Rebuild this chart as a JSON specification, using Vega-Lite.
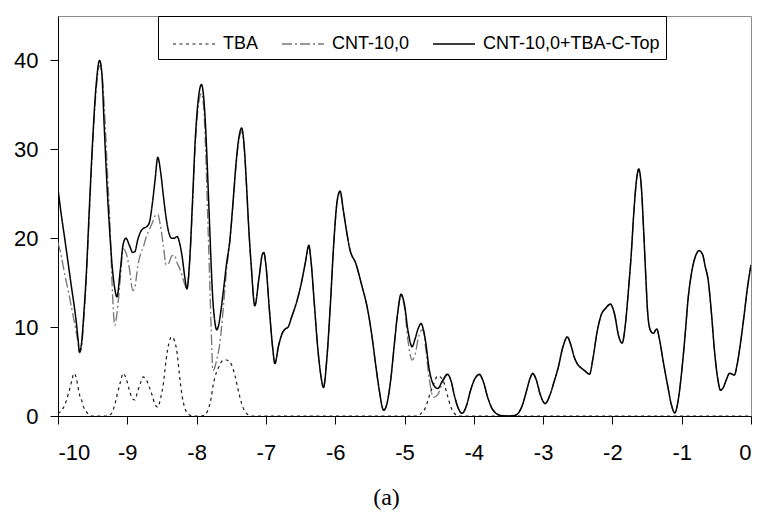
{
  "$schema": "https://vega.github.io/schema/vega-lite/v6.json",
  "width": 693,
  "height": 400,
  "autosize": {"type": "none"},
  "padding": {"left": 58, "top": 16, "right": 9, "bottom": 101},
  "background": "white",
  "config": {
    "view": {"stroke": "#8c8c8c", "strokeWidth": 1},
    "axis": {"grid": false, "domainColor": "black", "tickColor": "black", "labelColor": "black", "labelFont": "Liberation Sans", "labelFontSize": 22, "tickSize": 8, "domainWidth": 1, "tickWidth": 1, "labelExpr": "toString(datum.value)"}
  },
  "data": {
    "values": [
      {"x": -10, "top": 25.5, "cnt": 19.5, "tba": 0.3},
      {"x": -9.95, "top": 22.5, "cnt": 17.9, "tba": 0.6},
      {"x": -9.9, "top": 19.8, "cnt": 15.8, "tba": 1.3},
      {"x": -9.85, "top": 17.0, "cnt": 14.0, "tba": 2.5},
      {"x": -9.8, "top": 14.2, "cnt": 12.0, "tba": 4.0},
      {"x": -9.77, "top": 12.6, "cnt": 10.8, "tba": 4.8},
      {"x": -9.74, "top": 10.8, "cnt": 9.6, "tba": 4.4},
      {"x": -9.71, "top": 8.6, "cnt": 8.2, "tba": 3.2},
      {"x": -9.69, "top": 7.2, "cnt": 7.1, "tba": 2.4},
      {"x": -9.66, "top": 8.2, "cnt": 7.8, "tba": 1.8},
      {"x": -9.63, "top": 11.2, "cnt": 10.6, "tba": 1.0},
      {"x": -9.59, "top": 16.2, "cnt": 15.6, "tba": 0.5},
      {"x": -9.55, "top": 23.0, "cnt": 22.4, "tba": 0.1},
      {"x": -9.5, "top": 31.0, "cnt": 30.4, "tba": 0},
      {"x": -9.45, "top": 37.2, "cnt": 36.6, "tba": 0},
      {"x": -9.4, "top": 40.0, "cnt": 39.4, "tba": 0},
      {"x": -9.37, "top": 38.8, "cnt": 38.8, "tba": 0},
      {"x": -9.33, "top": 32.0, "cnt": 34.5, "tba": 0},
      {"x": -9.29, "top": 25.5, "cnt": 28.0, "tba": 0},
      {"x": -9.25, "top": 20.3, "cnt": 21.5, "tba": 0.1},
      {"x": -9.22, "top": 17.0, "cnt": 15.0, "tba": 0.4},
      {"x": -9.18, "top": 14.3, "cnt": 10.2, "tba": 1.3},
      {"x": -9.15, "top": 13.4, "cnt": 11.5, "tba": 2.3},
      {"x": -9.1, "top": 16.5, "cnt": 15.5, "tba": 3.8},
      {"x": -9.06, "top": 19.3, "cnt": 18.8, "tba": 4.8},
      {"x": -9.02, "top": 20.0, "cnt": 18.4, "tba": 4.3},
      {"x": -8.97, "top": 19.2, "cnt": 16.6, "tba": 2.9},
      {"x": -8.92, "top": 18.4, "cnt": 14.1, "tba": 1.9},
      {"x": -8.89, "top": 18.5, "cnt": 14.5, "tba": 1.8},
      {"x": -8.85, "top": 19.8, "cnt": 16.8, "tba": 2.8},
      {"x": -8.81, "top": 20.7, "cnt": 18.2, "tba": 3.7},
      {"x": -8.77, "top": 21.1, "cnt": 19.0, "tba": 4.4},
      {"x": -8.72, "top": 21.3, "cnt": 20.3, "tba": 4.0},
      {"x": -8.68, "top": 21.8, "cnt": 21.0, "tba": 3.2},
      {"x": -8.64, "top": 23.8, "cnt": 21.7, "tba": 2.3},
      {"x": -8.6, "top": 26.5, "cnt": 22.5, "tba": 1.3},
      {"x": -8.56, "top": 29.1, "cnt": 22.7, "tba": 1.0},
      {"x": -8.52, "top": 27.5, "cnt": 21.3, "tba": 2.0},
      {"x": -8.48, "top": 24.8, "cnt": 19.2, "tba": 3.6},
      {"x": -8.44, "top": 22.3, "cnt": 17.0, "tba": 6.3},
      {"x": -8.4, "top": 20.6, "cnt": 17.2, "tba": 8.2},
      {"x": -8.36, "top": 20.0, "cnt": 18.0, "tba": 8.9},
      {"x": -8.32, "top": 20.0, "cnt": 18.1, "tba": 8.5},
      {"x": -8.28, "top": 20.2, "cnt": 17.2, "tba": 7.0},
      {"x": -8.25, "top": 19.6, "cnt": 16.7, "tba": 4.8},
      {"x": -8.21, "top": 18.0, "cnt": 15.8, "tba": 2.3},
      {"x": -8.17, "top": 15.6, "cnt": 14.8, "tba": 0.9},
      {"x": -8.14, "top": 14.3, "cnt": 14.3, "tba": 0.4},
      {"x": -8.1, "top": 17.5, "cnt": 17.3, "tba": 0.1},
      {"x": -8.06, "top": 24.0, "cnt": 23.5, "tba": 0},
      {"x": -8.02, "top": 31.0, "cnt": 30.3, "tba": 0},
      {"x": -7.97, "top": 36.0, "cnt": 35.2, "tba": 0},
      {"x": -7.93, "top": 37.3, "cnt": 36.3, "tba": 0},
      {"x": -7.9, "top": 36.0, "cnt": 35.0, "tba": 0.05},
      {"x": -7.87, "top": 32.5, "cnt": 30.0, "tba": 0.2},
      {"x": -7.84, "top": 27.0, "cnt": 22.5, "tba": 0.6},
      {"x": -7.81, "top": 21.0, "cnt": 15.0, "tba": 1.3},
      {"x": -7.79, "top": 17.0, "cnt": 10.0, "tba": 2.0},
      {"x": -7.765, "top": 13.0, "cnt": 5.1, "tba": 3.3},
      {"x": -7.74, "top": 10.8, "cnt": 5.4, "tba": 4.2},
      {"x": -7.71, "top": 9.7, "cnt": 6.3, "tba": 5.0},
      {"x": -7.68, "top": 10.3, "cnt": 7.4, "tba": 5.5},
      {"x": -7.65, "top": 11.8, "cnt": 9.2, "tba": 6.0},
      {"x": -7.61, "top": 14.3, "cnt": 12.6, "tba": 6.3},
      {"x": -7.57, "top": 17.0, "cnt": 16.3, "tba": 6.3},
      {"x": -7.52, "top": 19.8, "cnt": 19.6, "tba": 6.1},
      {"x": -7.47, "top": 24.5, "cnt": 24.3, "tba": 5.2},
      {"x": -7.43, "top": 28.5, "cnt": 28.2, "tba": 4.0},
      {"x": -7.39, "top": 31.3, "cnt": 31.0, "tba": 2.6},
      {"x": -7.35, "top": 32.4, "cnt": 32.0, "tba": 1.4},
      {"x": -7.31, "top": 30.0, "cnt": 29.8, "tba": 0.6},
      {"x": -7.28, "top": 26.0, "cnt": 26.0, "tba": 0.3},
      {"x": -7.25, "top": 21.5, "cnt": 21.5, "tba": 0.1},
      {"x": -7.21, "top": 16.7, "cnt": 16.7, "tba": 0},
      {"x": -7.16, "top": 12.4, "cnt": 12.4, "tba": 0},
      {"x": -7.1, "top": 15.5, "cnt": 15.5, "tba": 0},
      {"x": -7.05, "top": 18.2, "cnt": 18.2, "tba": 0},
      {"x": -7.03, "top": 18.4, "cnt": 18.3, "tba": 0},
      {"x": -7.0, "top": 17.0, "cnt": 17.0, "tba": 0},
      {"x": -6.95, "top": 12.0, "cnt": 12.0, "tba": 0},
      {"x": -6.9, "top": 7.5, "cnt": 7.5, "tba": 0},
      {"x": -6.87, "top": 5.9, "cnt": 5.9, "tba": 0},
      {"x": -6.82, "top": 7.8, "cnt": 7.8, "tba": 0},
      {"x": -6.77, "top": 9.2, "cnt": 9.2, "tba": 0},
      {"x": -6.72, "top": 9.8, "cnt": 9.8, "tba": 0},
      {"x": -6.68, "top": 10.0, "cnt": 10.0, "tba": 0},
      {"x": -6.63, "top": 11.1, "cnt": 11.1, "tba": 0},
      {"x": -6.55, "top": 13.0, "cnt": 13.0, "tba": 0},
      {"x": -6.49, "top": 14.9, "cnt": 14.9, "tba": 0},
      {"x": -6.43, "top": 17.3, "cnt": 17.3, "tba": 0},
      {"x": -6.38, "top": 19.2, "cnt": 19.0, "tba": 0},
      {"x": -6.35, "top": 17.5, "cnt": 17.5, "tba": 0},
      {"x": -6.3, "top": 12.5, "cnt": 12.5, "tba": 0},
      {"x": -6.25, "top": 7.5, "cnt": 7.5, "tba": 0},
      {"x": -6.2, "top": 4.2, "cnt": 4.2, "tba": 0},
      {"x": -6.17, "top": 3.2, "cnt": 3.2, "tba": 0},
      {"x": -6.12, "top": 6.5, "cnt": 6.5, "tba": 0},
      {"x": -6.07, "top": 12.5, "cnt": 12.5, "tba": 0},
      {"x": -6.02, "top": 19.5, "cnt": 19.5, "tba": 0},
      {"x": -5.97, "top": 24.3, "cnt": 24.2, "tba": 0},
      {"x": -5.93, "top": 25.3, "cnt": 25.1, "tba": 0},
      {"x": -5.88, "top": 23.0, "cnt": 23.0, "tba": 0},
      {"x": -5.83, "top": 20.5, "cnt": 20.5, "tba": 0},
      {"x": -5.79, "top": 18.8, "cnt": 18.8, "tba": 0},
      {"x": -5.7, "top": 17.1, "cnt": 17.1, "tba": 0},
      {"x": -5.62, "top": 14.8, "cnt": 14.8, "tba": 0},
      {"x": -5.53, "top": 11.9, "cnt": 11.9, "tba": 0},
      {"x": -5.47, "top": 9.0, "cnt": 9.0, "tba": 0},
      {"x": -5.42, "top": 6.0, "cnt": 6.0, "tba": 0},
      {"x": -5.37, "top": 3.2, "cnt": 3.2, "tba": 0},
      {"x": -5.3, "top": 0.64, "cnt": 0.64, "tba": 0},
      {"x": -5.25, "top": 1.5, "cnt": 1.5, "tba": 0},
      {"x": -5.2, "top": 4.0, "cnt": 4.0, "tba": 0},
      {"x": -5.15, "top": 7.8, "cnt": 7.8, "tba": 0},
      {"x": -5.1, "top": 11.5, "cnt": 11.5, "tba": 0},
      {"x": -5.05, "top": 13.7, "cnt": 13.5, "tba": 0},
      {"x": -5.0, "top": 12.5, "cnt": 12.2, "tba": 0},
      {"x": -4.95, "top": 9.6, "cnt": 8.5, "tba": 0},
      {"x": -4.89, "top": 7.8, "cnt": 6.3, "tba": 0},
      {"x": -4.85, "top": 8.6, "cnt": 6.8, "tba": 0},
      {"x": -4.8, "top": 9.9, "cnt": 8.8, "tba": 0},
      {"x": -4.76, "top": 10.4, "cnt": 9.6, "tba": 0.3},
      {"x": -4.73, "top": 9.8, "cnt": 9.7, "tba": 0.5},
      {"x": -4.7, "top": 8.6, "cnt": 8.0, "tba": 0.9},
      {"x": -4.64, "top": 5.1, "cnt": 4.0, "tba": 2.3},
      {"x": -4.58, "top": 3.5, "cnt": 2.1, "tba": 3.6},
      {"x": -4.52, "top": 3.1, "cnt": 2.4, "tba": 4.5},
      {"x": -4.45, "top": 4.0, "cnt": 3.8, "tba": 4.1},
      {"x": -4.38, "top": 4.7, "cnt": 4.6, "tba": 2.3},
      {"x": -4.33, "top": 4.0, "cnt": 4.0, "tba": 1.0},
      {"x": -4.28, "top": 2.3, "cnt": 2.3, "tba": 0.3},
      {"x": -4.22, "top": 0.8, "cnt": 0.8, "tba": 0},
      {"x": -4.17, "top": 0.3, "cnt": 0.3, "tba": 0},
      {"x": -4.1, "top": 1.3, "cnt": 1.3, "tba": 0},
      {"x": -4.05, "top": 2.8, "cnt": 2.8, "tba": 0},
      {"x": -3.99, "top": 4.1, "cnt": 4.1, "tba": 0},
      {"x": -3.92, "top": 4.7, "cnt": 4.6, "tba": 0},
      {"x": -3.86, "top": 3.8, "cnt": 3.8, "tba": 0},
      {"x": -3.8, "top": 2.1, "cnt": 2.1, "tba": 0},
      {"x": -3.74, "top": 0.9, "cnt": 0.9, "tba": 0},
      {"x": -3.68, "top": 0.3, "cnt": 0.3, "tba": 0},
      {"x": -3.6, "top": 0.05, "cnt": 0.05, "tba": 0},
      {"x": -3.5, "top": 0, "cnt": 0, "tba": 0},
      {"x": -3.42, "top": 0.05, "cnt": 0.05, "tba": 0},
      {"x": -3.36, "top": 0.3, "cnt": 0.3, "tba": 0},
      {"x": -3.3, "top": 1.2, "cnt": 1.2, "tba": 0},
      {"x": -3.24, "top": 2.8, "cnt": 2.8, "tba": 0},
      {"x": -3.19, "top": 4.2, "cnt": 4.2, "tba": 0},
      {"x": -3.15, "top": 4.8, "cnt": 4.7, "tba": 0},
      {"x": -3.1, "top": 4.1, "cnt": 4.1, "tba": 0},
      {"x": -3.04, "top": 2.4, "cnt": 2.4, "tba": 0},
      {"x": -2.97, "top": 1.4, "cnt": 1.4, "tba": 0},
      {"x": -2.9, "top": 2.4, "cnt": 2.4, "tba": 0},
      {"x": -2.84, "top": 3.9, "cnt": 3.9, "tba": 0},
      {"x": -2.78, "top": 5.5, "cnt": 5.5, "tba": 0},
      {"x": -2.72, "top": 7.6, "cnt": 7.6, "tba": 0},
      {"x": -2.65, "top": 8.9, "cnt": 8.8, "tba": 0},
      {"x": -2.6, "top": 8.0, "cnt": 8.0, "tba": 0},
      {"x": -2.55, "top": 6.6, "cnt": 6.6, "tba": 0},
      {"x": -2.5, "top": 5.8, "cnt": 5.8, "tba": 0},
      {"x": -2.45, "top": 5.4, "cnt": 5.4, "tba": 0},
      {"x": -2.4, "top": 5.1, "cnt": 5.1, "tba": 0},
      {"x": -2.33, "top": 4.7, "cnt": 4.7, "tba": 0},
      {"x": -2.28, "top": 6.5, "cnt": 6.5, "tba": 0},
      {"x": -2.22, "top": 9.5, "cnt": 9.5, "tba": 0},
      {"x": -2.16, "top": 11.4, "cnt": 11.4, "tba": 0},
      {"x": -2.1, "top": 12.1, "cnt": 12.1, "tba": 0},
      {"x": -2.03, "top": 12.6, "cnt": 12.5, "tba": 0},
      {"x": -1.97, "top": 11.5, "cnt": 11.5, "tba": 0},
      {"x": -1.91, "top": 9.0, "cnt": 9.0, "tba": 0},
      {"x": -1.86, "top": 8.2, "cnt": 8.2, "tba": 0},
      {"x": -1.81, "top": 10.5, "cnt": 10.5, "tba": 0},
      {"x": -1.77, "top": 14.0, "cnt": 14.0, "tba": 0},
      {"x": -1.73, "top": 18.0, "cnt": 18.0, "tba": 0},
      {"x": -1.69, "top": 23.0, "cnt": 23.0, "tba": 0},
      {"x": -1.65, "top": 26.7, "cnt": 26.6, "tba": 0},
      {"x": -1.62, "top": 27.8, "cnt": 27.6, "tba": 0},
      {"x": -1.58, "top": 25.5, "cnt": 25.5, "tba": 0},
      {"x": -1.55, "top": 21.0, "cnt": 21.0, "tba": 0},
      {"x": -1.52, "top": 16.0, "cnt": 16.0, "tba": 0},
      {"x": -1.49, "top": 11.5, "cnt": 11.5, "tba": 0},
      {"x": -1.45, "top": 9.6, "cnt": 9.6, "tba": 0},
      {"x": -1.41, "top": 9.3, "cnt": 9.3, "tba": 0},
      {"x": -1.36, "top": 9.8, "cnt": 9.8, "tba": 0},
      {"x": -1.32, "top": 8.6, "cnt": 8.6, "tba": 0},
      {"x": -1.27, "top": 6.3, "cnt": 6.3, "tba": 0},
      {"x": -1.2, "top": 3.3, "cnt": 3.3, "tba": 0},
      {"x": -1.15, "top": 1.3, "cnt": 1.3, "tba": 0},
      {"x": -1.1, "top": 0.35, "cnt": 0.35, "tba": 0},
      {"x": -1.05, "top": 1.8, "cnt": 1.8, "tba": 0},
      {"x": -1.0, "top": 5.0, "cnt": 5.0, "tba": 0},
      {"x": -0.95, "top": 9.2, "cnt": 9.2, "tba": 0},
      {"x": -0.91, "top": 13.0, "cnt": 13.0, "tba": 0},
      {"x": -0.86, "top": 16.0, "cnt": 16.0, "tba": 0},
      {"x": -0.8, "top": 18.0, "cnt": 18.0, "tba": 0},
      {"x": -0.75, "top": 18.6, "cnt": 18.5, "tba": 0},
      {"x": -0.7, "top": 18.2, "cnt": 18.2, "tba": 0},
      {"x": -0.66, "top": 16.8, "cnt": 16.8, "tba": 0},
      {"x": -0.62, "top": 15.4, "cnt": 15.4, "tba": 0},
      {"x": -0.57, "top": 11.5, "cnt": 11.5, "tba": 0},
      {"x": -0.53, "top": 7.6, "cnt": 7.6, "tba": 0},
      {"x": -0.48, "top": 4.2, "cnt": 4.2, "tba": 0},
      {"x": -0.44, "top": 2.9, "cnt": 2.9, "tba": 0},
      {"x": -0.4, "top": 3.2, "cnt": 3.2, "tba": 0},
      {"x": -0.35, "top": 4.2, "cnt": 4.2, "tba": 0},
      {"x": -0.31, "top": 4.8, "cnt": 4.8, "tba": 0},
      {"x": -0.27, "top": 4.7, "cnt": 4.7, "tba": 0},
      {"x": -0.24, "top": 4.6, "cnt": 4.6, "tba": 0},
      {"x": -0.2, "top": 5.8, "cnt": 5.8, "tba": 0},
      {"x": -0.15, "top": 8.3, "cnt": 8.3, "tba": 0},
      {"x": -0.1, "top": 11.3, "cnt": 11.3, "tba": 0},
      {"x": -0.05, "top": 14.5, "cnt": 14.5, "tba": 0},
      {"x": 0, "top": 17.0, "cnt": 17.0, "tba": 0}
    ]
  },
  "transform": [
    {"fold": ["cnt", "tba", "top"], "as": ["series", "value"]}
  ],
  "mark": {"type": "line", "interpolate": "monotone", "clip": true},
  "encoding": {
    "x": {
      "field": "x", "type": "quantitative",
      "scale": {"domain": [-10, 0], "nice": false, "zero": false},
      "axis": {"values": [-10, -9, -8, -7, -6, -5, -4, -3, -2, -1, 0], "labelPadding": 18, "title": "(a)", "titleFont": "Liberation Serif", "titleFontSize": 24, "titleFontWeight": "normal", "titleColor": "black", "titleX": 328, "titleY": 88, "titleAnchor": "start", "titleAlign": "center", "titleBaseline": "alphabetic"}
    },
    "y": {
      "field": "value", "type": "quantitative",
      "scale": {"domain": [0, 45], "nice": false},
      "axis": {"values": [0, 10, 20, 30, 40], "labelPadding": 12, "title": null}
    },
    "color": {
      "field": "series", "type": "nominal",
      "scale": {"domain": ["tba", "cnt", "top"], "range": ["#1a1a1a", "#777777", "#000000"]},
      "legend": {
        "title": null, "orient": "none", "legendX": 100, "legendY": 0, "direction": "horizontal", "columns": 3,
        "columnPadding": 14, "padding": 6, "strokeColor": "black", "fillColor": "white",
        "symbolType": "stroke", "symbolSize": 1764, "symbolStrokeWidth": 1.2, "symbolOffset": 8,
        "labelOffset": 7, "labelFont": "Liberation Sans", "labelFontSize": 18, "labelColor": "black", "labelLimit": 300,
        "labelExpr": "datum.label == 'tba' ? 'TBA' : datum.label == 'cnt' ? 'CNT-10,0' : 'CNT-10,0+TBA-C-Top'"
      }
    },
    "strokeDash": {
      "field": "series", "type": "nominal",
      "scale": {"domain": ["tba", "cnt", "top"], "range": [[3, 3.5], [10, 3, 2, 3], [1, 0]]},
      "legend": {
        "title": null, "orient": "none", "legendX": 100, "legendY": 0, "direction": "horizontal", "columns": 3,
        "columnPadding": 14, "padding": 6, "strokeColor": "black", "fillColor": "white",
        "symbolType": "stroke", "symbolSize": 1764, "symbolStrokeWidth": 1.2, "symbolOffset": 8,
        "labelOffset": 7, "labelFont": "Liberation Sans", "labelFontSize": 18, "labelColor": "black", "labelLimit": 300,
        "labelExpr": "datum.label == 'tba' ? 'TBA' : datum.label == 'cnt' ? 'CNT-10,0' : 'CNT-10,0+TBA-C-Top'"
      }
    },
    "strokeWidth": {
      "field": "series", "type": "ordinal",
      "scale": {"domain": ["tba", "cnt", "top"], "range": [1.2, 1.5, 1.0]},
      "legend": null
    }
  }
}
